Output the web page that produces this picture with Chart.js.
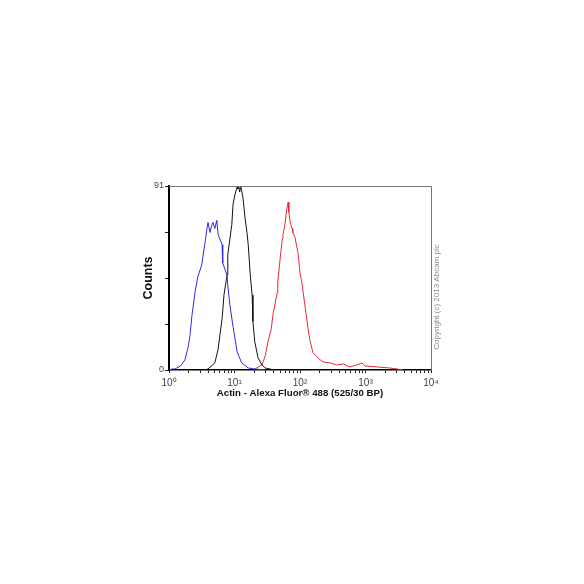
<!DOCTYPE html>
<html>
<head>
<meta charset="utf-8">
<script src="https://cdn.jsdelivr.net/npm/chart.js@4.4.0/dist/chart.umd.min.js"></script>
<style>
  html, body { margin: 0; padding: 0; background: #fff; }
  canvas { display: block; }
</style>
</head>
<body>
<canvas id="myChart" width="584" height="584"></canvas>
<script>
// fluorescence intensity (log axis) and counts
const blueX = [1.0, 1.11, 1.23, 1.5, 1.75, 1.95, 2.09, 2.24, 2.51, 2.75, 3.16, 3.55, 3.8, 3.94, 4.23, 4.53, 4.68, 5.01, 5.37, 5.62, 6.46, 6.61, 7.67, 7.94, 8.51, 9.55, 10.96, 12.9, 16.2, 20.4, 30];
const blueY = [0, 0.5, 0.5, 2, 5, 11, 17, 27, 39, 46, 52, 63, 70, 73, 68, 72, 73, 70, 74, 67, 62, 53, 47, 41, 32, 21, 9, 3.5, 1, 0.5, 0];

const blackX = [3.5, 3.94, 5.0, 5.6, 6.5, 6.9, 7.7, 7.9, 9.1, 9.5, 10.2, 11.0, 11.2, 11.6, 12.0, 12.4, 12.9, 13.5, 14.5, 15.5, 16.2, 17.4, 18.6, 19.1, 20.4, 22.9, 26.3, 29.5, 34.7, 40];
const blackY = [0, 0.5, 3.5, 10, 26, 37, 47, 57, 72, 82, 87, 90.5, 89.5, 91, 88, 91, 88.5, 85, 75, 68, 62, 47, 37, 24, 14, 6, 2.5, 1, 0.5, 0];

const redX = [20.4, 26.3, 29.5, 32.4, 36.3, 38.9, 44.7, 45.7, 49.0, 53.7, 55.0, 58.9, 63.1, 66.1, 67.6, 70.8, 75.9, 77.6, 83.2, 93.3, 100, 107, 120, 132, 141, 158, 182, 204, 224, 288, 363, 457, 575, 741, 891, 977, 1514, 2344, 3020, 3715];
const redY = [0.5, 2.5, 7, 14, 20, 28, 38, 43, 53, 65, 67, 72, 80, 83, 78, 73, 70, 68, 66, 58, 48, 43, 31, 21, 15, 8.5, 6.5, 5, 4, 3.5, 2.5, 3, 1.5, 2.5, 3.5, 2, 1.5, 1, 0.5, 0];

const xDecades = [1, 10, 100, 1000, 10000];
const xDecadeLabels = ['10\u2070', '10\u00b9', '10\u00b2', '10\u00b3', '10\u2074'];
const yTicks = [0, 22.75, 45.5, 68.25, 91];
const yTickLabels = ['0', '', '', '', '91'];

const xTitle = 'Actin - Alexa Fluor\u00ae 488 (525/30 BP)';
const yTitle = 'Counts';
const copyright = 'Copyright (c) 2013 Abcam plc';

const toPoints = (xs, ys) => xs.map((x, i) => ({ x: x, y: ys[i] }));

const fontFamily = '"Liberation Sans", Arial, sans-serif';

// top/right frame lines and the copyright note
const framePlugin = {
    id: 'frame',
    afterDraw(chart) {
        const { ctx, chartArea: a } = chart;
        ctx.save();
        ctx.strokeStyle = '#777';
        ctx.lineWidth = 1;
        ctx.beginPath();
        ctx.moveTo(a.left, a.top + 0.5);
        ctx.lineTo(a.right + 0.5, a.top + 0.5);
        ctx.lineTo(a.right + 0.5, a.bottom);
        ctx.stroke();

        ctx.translate(a.right + 6, 297);
        ctx.rotate(-Math.PI / 2);
        ctx.fillStyle = '#888';
        ctx.font = '8px ' + fontFamily;
        ctx.textAlign = 'center';
        ctx.textBaseline = 'middle';
        ctx.fillText(copyright, 0, 0);
        ctx.restore();
    }
};

const minorX = [];
for (let d = 1; d < 10000; d *= 10) {
    for (let m = 1; m < 10; m++) minorX.push(d * m);
}
minorX.push(10000);

const config = {
    type: 'line',
    data: {
        datasets: [
            { label: 'blue', data: toPoints(blueX, blueY), borderColor: '#2a2ae6' },
            { label: 'black', data: toPoints(blackX, blackY), borderColor: '#111111' },
            { label: 'red', data: toPoints(redX, redY), borderColor: '#e8283a' }
        ]
    },
    options: {
        responsive: false,
        animation: false,
        layout: { padding: { left: 139, top: 186, right: 153, bottom: 174 } },
        elements: {
            line: { borderWidth: 1, tension: 0, fill: false },
            point: { radius: 0 }
        },
        plugins: {
            legend: { display: false },
            tooltip: { enabled: false }
        },
        scales: {
            x: {
                type: 'logarithmic',
                min: 1,
                max: 10000,
                afterBuildTicks: scale => {
                    scale.ticks = minorX.map(v => ({ value: v, major: xDecades.includes(v) }));
                },
                afterFit: scale => { scale.height = 40; },
                ticks: {
                    autoSkip: false,
                    maxRotation: 0,
                    padding: 4,
                    color: '#444',
                    font: { family: fontFamily, size: 10 },
                    callback: value => {
                        const i = xDecades.indexOf(value);
                        return i >= 0 ? xDecadeLabels[i] : '';
                    }
                },
                grid: { drawOnChartArea: false, tickLength: 3, color: '#222' },
                border: { display: true, color: '#000', width: 1.5 },
                title: {
                    display: true,
                    text: xTitle,
                    color: '#111',
                    font: { family: fontFamily, size: 9.7, weight: 'bold' },
                    padding: { top: 0, bottom: 11 }
                }
            },
            y: {
                min: 0,
                max: 91,
                afterBuildTicks: scale => {
                    scale.ticks = yTicks.map(v => ({ value: v }));
                },
                afterFit: scale => { scale.width = 30; },
                ticks: {
                    autoSkip: false,
                    padding: 1,
                    color: '#444',
                    font: { family: fontFamily, size: 9 },
                    callback: value => yTickLabels[yTicks.indexOf(value)]
                },
                grid: { drawOnChartArea: false, tickLength: 4, color: '#222' },
                border: { display: true, color: '#000', width: 2 },
                title: {
                    display: true,
                    text: yTitle,
                    color: '#111',
                    font: { family: fontFamily, size: 12.5, weight: 'bold' },
                    padding: { top: 2, bottom: 0 }
                }
            }
        }
    },
    plugins: [framePlugin]
};

const myChart = new Chart(
    document.getElementById('myChart'),
    config
);
</script>
</body>
</html>
